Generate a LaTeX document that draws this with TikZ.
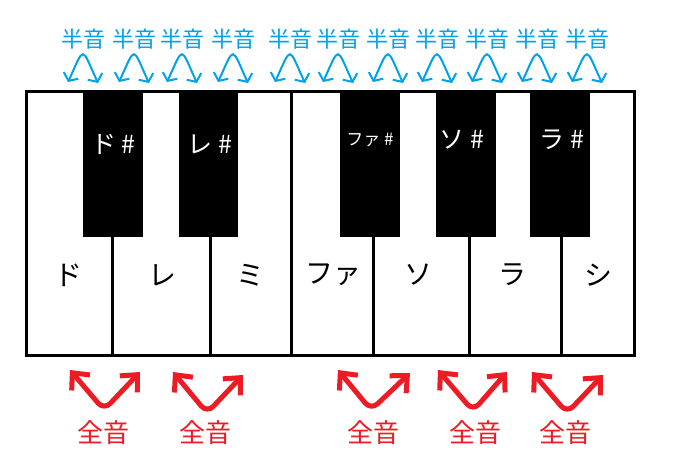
\documentclass[tikz,border=0pt]{standalone}
\usepackage{fontspec}
\newfontfamily\jpfont{Noto Sans CJK JP}
\usepackage{tikz}
\usetikzlibrary{arrows.meta}
\definecolor{halfblue}{RGB}{0,162,232}
\definecolor{wholered}{RGB}{237,28,36}

\begin{document}
\begin{tikzpicture}[x=1pt, y=-1pt,
  every node/.style={inner sep=0pt},
  whitename/.style={font=\jpfont\fontsize{28}{32}\selectfont},
  blackname/.style={white, font=\jpfont\fontsize{25}{30}\selectfont},
  halfname/.style={halfblue, font=\jpfont\fontsize{22}{26}\selectfont},
  wholename/.style={wholered, font=\jpfont\fontsize{26}{30}\selectfont},
  halfarc/.style={halfblue, line width=2pt, {Straight Barb[length=6pt,width=16pt]}-{Straight Barb[length=6pt,width=16pt]}},
  wholearc/.style={wholered, line width=5pt, line cap=round, rounded corners=9pt, {Straight Barb[length=13pt,width=24pt]}-{Straight Barb[length=13pt,width=24pt]}}]
\useasboundingbox (0,0) rectangle (679,452);
\fill[white] (0,0) rectangle (679,452);

% keyboard
\fill (83,92) rectangle (143,237);
\fill (179,92) rectangle (238,237);
\fill (340,92) rectangle (400,237);
\fill (436,92) rectangle (496,237);
\fill (530,92) rectangle (590,237);
\draw[line width=3pt] (112.7,237) -- (112.7,355.5);
\draw[line width=3pt] (210,237) -- (210,355.5);
\draw[line width=3pt] (291.7,91.5) -- (291.7,355.5);
\draw[line width=3pt] (373.3,237) -- (373.3,355.5);
\draw[line width=3pt] (469,237) -- (469,355.5);
\draw[line width=3pt] (561.7,237) -- (561.7,355.5);
\draw[line width=3pt] (26.5,91.5) rectangle (634.5,355.5);

\node[blackname] (Cis) at (113.5,144) {ド \#};
\node[blackname] (Dis) at (210,144) {レ \#};
\node[blackname, font=\jpfont\fontsize{17}{20}\selectfont] (Fis) at (370,140) {ファ \#};
\node[blackname] (Gis) at (462,140) {ソ \#};
\node[blackname] (Ais) at (562,140) {ラ \#};

\node[whitename] (C) at (68,275) {ド};
\node[whitename] (D) at (162,275) {レ};
\node[whitename] (E) at (250,275) {ミ};
\node[whitename] (F) at (333,275) {ファ};
\node[whitename] (G) at (418,275) {ソ};
\node[whitename] (A) at (512,275) {ラ};
\node[whitename] (B) at (598,275) {シ};

% half steps
\node[halfname] (Half1) at (83,39) {半音};
\node[halfname] (Half2) at (134,39) {半音};
\node[halfname] (Half3) at (182,39) {半音};
\node[halfname] (Half4) at (233,39) {半音};
\node[halfname] (Half5) at (290,39) {半音};
\node[halfname] (Half6) at (338,39) {半音};
\node[halfname] (Half7) at (388,39) {半音};
\node[halfname] (Half8) at (437,39) {半音};
\node[halfname] (Half9) at (487,39) {半音};
\node[halfname] (Half10) at (537,39) {半音};
\node[halfname] (Half11) at (587,39) {半音};

\coordinate (HalfL1) at (68,82); \coordinate (HalfR1) at (98,83);
\coordinate (HalfL2) at (119,82); \coordinate (HalfR2) at (149,83);
\coordinate (HalfL3) at (167,82); \coordinate (HalfR3) at (197,83);
\coordinate (HalfL4) at (218,82); \coordinate (HalfR4) at (248,83);
\coordinate (HalfL5) at (275,82); \coordinate (HalfR5) at (305,83);
\coordinate (HalfL6) at (323,82); \coordinate (HalfR6) at (353,83);
\coordinate (HalfL7) at (373,82); \coordinate (HalfR7) at (403,83);
\coordinate (HalfL8) at (422,82); \coordinate (HalfR8) at (452,83);
\coordinate (HalfL9) at (472,82); \coordinate (HalfR9) at (502,83);
\coordinate (HalfL10) at (522,82); \coordinate (HalfR10) at (552,83);
\coordinate (HalfL11) at (572,82); \coordinate (HalfR11) at (602,83);

\draw[halfarc] (HalfL1) .. controls +(17,-37) and +(-17,-37) .. (HalfR1);
\draw[halfarc] (HalfL2) .. controls +(17,-37) and +(-17,-37) .. (HalfR2);
\draw[halfarc] (HalfL3) .. controls +(17,-37) and +(-17,-37) .. (HalfR3);
\draw[halfarc] (HalfL4) .. controls +(17,-37) and +(-17,-37) .. (HalfR4);
\draw[halfarc] (HalfL5) .. controls +(17,-37) and +(-17,-37) .. (HalfR5);
\draw[halfarc] (HalfL6) .. controls +(17,-37) and +(-17,-37) .. (HalfR6);
\draw[halfarc] (HalfL7) .. controls +(17,-37) and +(-17,-37) .. (HalfR7);
\draw[halfarc] (HalfL8) .. controls +(17,-37) and +(-17,-37) .. (HalfR8);
\draw[halfarc] (HalfL9) .. controls +(17,-37) and +(-17,-37) .. (HalfR9);
\draw[halfarc] (HalfL10) .. controls +(17,-37) and +(-17,-37) .. (HalfR10);
\draw[halfarc] (HalfL11) .. controls +(17,-37) and +(-17,-37) .. (HalfR11);

% whole steps
\node[wholename] (Whole1) at (103,433) {全音};
\node[wholename] (Whole2) at (205,433) {全音};
\node[wholename] (Whole3) at (373,433) {全音};
\node[wholename] (Whole4) at (475,433) {全音};
\node[wholename] (Whole5) at (565,433) {全音};

\coordinate (WholeL1) at (70,370); \coordinate (WholeM1) at (104,410); \coordinate (WholeR1) at (140,372);
\coordinate (WholeL2) at (173,372); \coordinate (WholeM2) at (207,413); \coordinate (WholeR2) at (243,375);
\coordinate (WholeL3) at (338,370); \coordinate (WholeM3) at (371,410); \coordinate (WholeR3) at (410,373);
\coordinate (WholeL4) at (438,370); \coordinate (WholeM4) at (473,411); \coordinate (WholeR4) at (507,372);
\coordinate (WholeL5) at (532,372); \coordinate (WholeM5) at (567,413); \coordinate (WholeR5) at (603,375);

\draw[wholearc] (WholeL1) -- (WholeM1) -- (WholeR1);
\draw[wholearc] (WholeL2) -- (WholeM2) -- (WholeR2);
\draw[wholearc] (WholeL3) -- (WholeM3) -- (WholeR3);
\draw[wholearc] (WholeL4) -- (WholeM4) -- (WholeR4);
\draw[wholearc] (WholeL5) -- (WholeM5) -- (WholeR5);
\end{tikzpicture}
\end{document}
